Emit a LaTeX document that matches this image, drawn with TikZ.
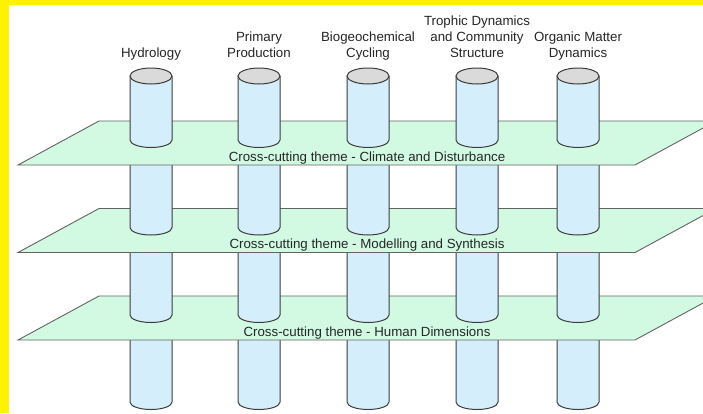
\documentclass[tikz,border=0pt]{standalone}
\usepackage{tikz}
\usepackage{xcolor}
\usepackage{fontspec}
\setmainfont{Liberation Sans}

\definecolor{pillarblue}{HTML}{D5EEFC}
\definecolor{capgray}{HTML}{DADADA}
\definecolor{themegreen}{HTML}{D2FAE2}
\definecolor{edgegray}{HTML}{3C3C3C}

\begin{document}
\begin{tikzpicture}[
  x=1pt, y=-1pt,
  every node/.style={font=\fontsize{13.3}{16}\selectfont, text=black!85},
  pillar/.style={fill=pillarblue, draw=edgegray, line width=1pt},
  pillarcap/.style={fill=capgray, draw=edgegray, line width=1pt},
  theme/.style={fill=themegreen, draw=edgegray!80, line width=0.9pt},
  heading/.style={anchor=south, align=center, inner sep=0pt},
  themelabel/.style={anchor=base, inner sep=0pt}
]
\useasboundingbox (0,0) rectangle (703,413);
\clip (0,0) rectangle (703,413);

% ---- FRAME: yellow band top and left ----
\fill[yellow] (0,0) rectangle (703,413);
\fill[white] (9,5) rectangle (703,413);

% ---- BOTTOM pillar segments ----
\draw[pillar] (130,335) -- (130,402) arc[start angle=180, end angle=360, x radius=21pt, y radius=7.5pt] -- (172,335);
\draw[pillar] (238,335) -- (238,402) arc[start angle=180, end angle=360, x radius=21pt, y radius=7.5pt] -- (280,335);
\draw[pillar] (347,335) -- (347,402) arc[start angle=180, end angle=360, x radius=21pt, y radius=7.5pt] -- (389,335);
\draw[pillar] (456,335) -- (456,402) arc[start angle=180, end angle=360, x radius=21pt, y radius=7.5pt] -- (498,335);
\draw[pillar] (557,335) -- (557,402) arc[start angle=180, end angle=360, x radius=21pt, y radius=7.5pt] -- (599,335);

% ---- THEME 3: Human Dimensions ----
\draw[theme] (18,340) -- (635,340) -- (716,296) -- (99,296) -- cycle;
\node[themelabel] (human) at (367,336)
  {Cross-cutting theme - Human Dimensions};

% ---- THIRD pillar segments ----
\draw[pillar] (130,247) -- (130,315) arc[start angle=180, end angle=360, x radius=21pt, y radius=7.5pt] -- (172,247);
\draw[pillar] (238,247) -- (238,315) arc[start angle=180, end angle=360, x radius=21pt, y radius=7.5pt] -- (280,247);
\draw[pillar] (347,247) -- (347,315) arc[start angle=180, end angle=360, x radius=21pt, y radius=7.5pt] -- (389,247);
\draw[pillar] (456,247) -- (456,315) arc[start angle=180, end angle=360, x radius=21pt, y radius=7.5pt] -- (498,247);
\draw[pillar] (557,247) -- (557,315) arc[start angle=180, end angle=360, x radius=21pt, y radius=7.5pt] -- (599,247);

% ---- THEME 2: Modelling and Synthesis ----
\draw[theme] (18,252.5) -- (635,252.5) -- (716,208.5) -- (99,208.5) -- cycle;
\node[themelabel] (model) at (367,248.5)
  {Cross-cutting theme - Modelling and Synthesis};

% ---- SECOND pillar segments ----
\draw[pillar] (130,160) -- (130,227.5) arc[start angle=180, end angle=360, x radius=21pt, y radius=7.5pt] -- (172,160);
\draw[pillar] (238,160) -- (238,227.5) arc[start angle=180, end angle=360, x radius=21pt, y radius=7.5pt] -- (280,160);
\draw[pillar] (347,160) -- (347,227.5) arc[start angle=180, end angle=360, x radius=21pt, y radius=7.5pt] -- (389,160);
\draw[pillar] (456,160) -- (456,227.5) arc[start angle=180, end angle=360, x radius=21pt, y radius=7.5pt] -- (498,160);
\draw[pillar] (557,160) -- (557,227.5) arc[start angle=180, end angle=360, x radius=21pt, y radius=7.5pt] -- (599,160);

% ---- THEME 1: Climate and Disturbance ----
\draw[theme] (18,165) -- (635,165) -- (716,121) -- (99,121) -- cycle;
\node[themelabel] (climate) at (367,161.5)
  {Cross-cutting theme - Climate and Disturbance};

% ---- TOP pillar segments with caps ----
\draw[pillar] (130,76) -- (130,140) arc[start angle=180, end angle=360, x radius=21pt, y radius=7.5pt] -- (172,76);
\draw[pillar] (238,76) -- (238,140) arc[start angle=180, end angle=360, x radius=21pt, y radius=7.5pt] -- (280,76);
\draw[pillar] (347,76) -- (347,140) arc[start angle=180, end angle=360, x radius=21pt, y radius=7.5pt] -- (389,76);
\draw[pillar] (456,76) -- (456,140) arc[start angle=180, end angle=360, x radius=21pt, y radius=7.5pt] -- (498,76);
\draw[pillar] (557,76) -- (557,140) arc[start angle=180, end angle=360, x radius=21pt, y radius=7.5pt] -- (599,76);
\draw[pillarcap] (151,76) ellipse[x radius=21pt, y radius=8pt];
\draw[pillarcap] (259,76) ellipse[x radius=21pt, y radius=8pt];
\draw[pillarcap] (368,76) ellipse[x radius=21pt, y radius=8pt];
\draw[pillarcap] (477,76) ellipse[x radius=21pt, y radius=8pt];
\draw[pillarcap] (578,76) ellipse[x radius=21pt, y radius=8pt];

% ---- HEADINGS ----
\node[heading] (hydro) at (151,62) {Hydrology\strut};
\node[heading] (primary) at (259,62) {Primary\\Production\strut};
\node[heading] (biogeo) at (368,62) {Biogeochemical\\Cycling\strut};
\node[heading] (trophic) at (477,62) {Trophic Dynamics\\and Community\\Structure\strut};
\node[heading] (organic) at (578,62) {Organic Matter\\Dynamics\strut};

\end{tikzpicture}
\end{document}
